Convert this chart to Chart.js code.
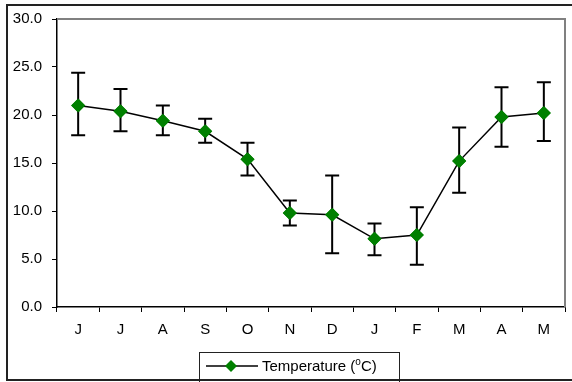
<!DOCTYPE html>
<html>
<head>
<meta charset="utf-8">
<script src="https://cdn.jsdelivr.net/npm/chart.js@4.4.0/dist/chart.umd.min.js"></script>
<style>
  html, body { margin: 0; padding: 0; background: #fff; overflow: hidden; }
  #wrap { width: 572px; height: 382px; }
  canvas { display: block; }
</style>
</head>
<body>
<div id="wrap"><canvas id="chart" width="572" height="382"></canvas></div>
<script>
// monthly mean temperature with error range
var months = ["J", "J", "A", "S", "O", "N", "D", "J", "F", "M", "A", "M"];
var temperature = [21.0, 20.4, 19.4, 18.3, 15.4, 9.8, 9.6, 7.1, 7.5, 15.2, 19.8, 20.2];
var errHigh = [24.4, 22.7, 21.0, 19.6, 17.1, 11.1, 13.7, 8.7, 10.4, 18.7, 22.9, 23.4];
var errLow = [17.9, 18.3, 17.9, 17.1, 13.7, 8.5, 5.6, 5.4, 4.4, 11.9, 16.7, 17.3];
var yTicks = [0, 5, 10, 15, 20, 25, 30];

var fontFamily = "'Liberation Sans', Arial, sans-serif";

// outer frame, plot frame and the legend box
var framePlugin = {
  id: "frame",
  beforeDraw: function (chart) {
    var ctx = chart.ctx;
    ctx.save();
    ctx.fillStyle = "#fff";
    ctx.fillRect(0, 0, chart.width, chart.height);
    ctx.restore();
  },
  afterDraw: function (chart) {
    var ctx = chart.ctx;
    var a = chart.chartArea;
    ctx.save();
    // plot area top/right in grey
    ctx.fillStyle = "#808080";
    ctx.fillRect(a.left, a.top - 1, a.right - a.left + 1, 2);
    ctx.fillRect(a.right - 1, a.top - 1, 2, a.bottom - a.top + 1);

    // legend
    ctx.strokeStyle = "#222";
    ctx.lineWidth = 1;
    ctx.strokeRect(199.5, 352.5, 200, 40);
    ctx.strokeStyle = "#000";
    ctx.lineWidth = 1.5;
    ctx.beginPath();
    ctx.moveTo(206, 366);
    ctx.lineTo(258, 366);
    ctx.stroke();
    ctx.fillStyle = "#008000";
    ctx.beginPath();
    ctx.moveTo(231, 360);
    ctx.lineTo(237, 366);
    ctx.lineTo(231, 372);
    ctx.lineTo(225, 366);
    ctx.closePath();
    ctx.fill();
    ctx.fillStyle = "#000";
    ctx.font = "15px " + fontFamily;
    ctx.textBaseline = "middle";
    ctx.fillText("Temperature (", 262, 367);
    var w = ctx.measureText("Temperature (").width;
    ctx.font = "10px " + fontFamily;
    ctx.fillText("o", 262 + w, 362);
    var w2 = ctx.measureText("o").width;
    ctx.font = "15px " + fontFamily;
    ctx.fillText("C)", 262 + w + w2, 367);

    // outer frame (right side falls outside the page)
    ctx.fillStyle = "#222";
    ctx.fillRect(6, 4, chart.width, 2);
    ctx.fillRect(6, 4, 2, 377);
    ctx.fillRect(6, 379, chart.width, 2);
    ctx.restore();
  }
};

// error bars drawn from errHigh / errLow via the chart scales
var errorBarPlugin = {
  id: "errorBars",
  afterDatasetsDraw: function (chart) {
    var ctx = chart.ctx;
    var x = chart.scales.x;
    var y = chart.scales.y;
    ctx.save();
    ctx.strokeStyle = "#000";
    ctx.lineWidth = 2;
    for (var i = 0; i < months.length; i++) {
      var px = x.getPixelForValue(i);
      var top = y.getPixelForValue(errHigh[i]);
      var bot = y.getPixelForValue(errLow[i]);
      ctx.beginPath();
      ctx.moveTo(px, top);
      ctx.lineTo(px, bot);
      ctx.moveTo(px - 7, top);
      ctx.lineTo(px + 7, top);
      ctx.moveTo(px - 7, bot);
      ctx.lineTo(px + 7, bot);
      ctx.stroke();
    }
    ctx.restore();
    // redraw markers over the bars
    chart.getDatasetMeta(0).data.forEach(function (pt) {
      pt.draw(ctx, chart.chartArea);
    });
  }
};

var chart = new Chart(document.getElementById("chart"), {
  type: "line",
  data: {
    labels: months,
    datasets: [{
      label: "Temperature (oC)",
      data: temperature,
      borderColor: "#000",
      borderWidth: 1.5,
      pointStyle: "rectRot",
      pointRadius: 7,
      pointBackgroundColor: "#008000",
      pointBorderColor: "#008000",
      pointBorderWidth: 0,
      tension: 0
    }]
  },
  options: {
    responsive: false,
    animation: false,
    layout: { padding: { left: 0, top: 19, right: 1, bottom: 0 } },
    plugins: {
      legend: { display: false },
      tooltip: { enabled: false }
    },
    scales: {
      x: {
        type: "category",
        offset: true,
        afterFit: function (scale) {
          scale.height = 75;
          scale.paddingLeft = 0;
          scale.paddingRight = 0;
        },
        grid: {
          offset: true,
          drawOnChartArea: false,
          tickLength: 5,
          tickColor: "#000",
          tickWidth: 1
        },
        border: { color: "#000", width: 1.5 },
        ticks: {
          color: "#000",
          padding: 9,
          font: { family: fontFamily, size: 15 }
        }
      },
      y: {
        min: 0,
        max: 30,
        afterFit: function (scale) { scale.width = 57; },
        afterBuildTicks: function (scale) {
          scale.ticks = yTicks.map(function (v) { return { value: v }; });
        },
        grid: {
          drawOnChartArea: false,
          tickLength: 5,
          tickColor: "#000",
          tickWidth: 1
        },
        border: { color: "#000", width: 1.5 },
        ticks: {
          color: "#000",
          padding: 10,
          font: { family: fontFamily, size: 15 },
          callback: function (v) { return Number(v).toFixed(1); }
        }
      }
    }
  },
  plugins: [framePlugin, errorBarPlugin]
});
</script>
</body>
</html>
